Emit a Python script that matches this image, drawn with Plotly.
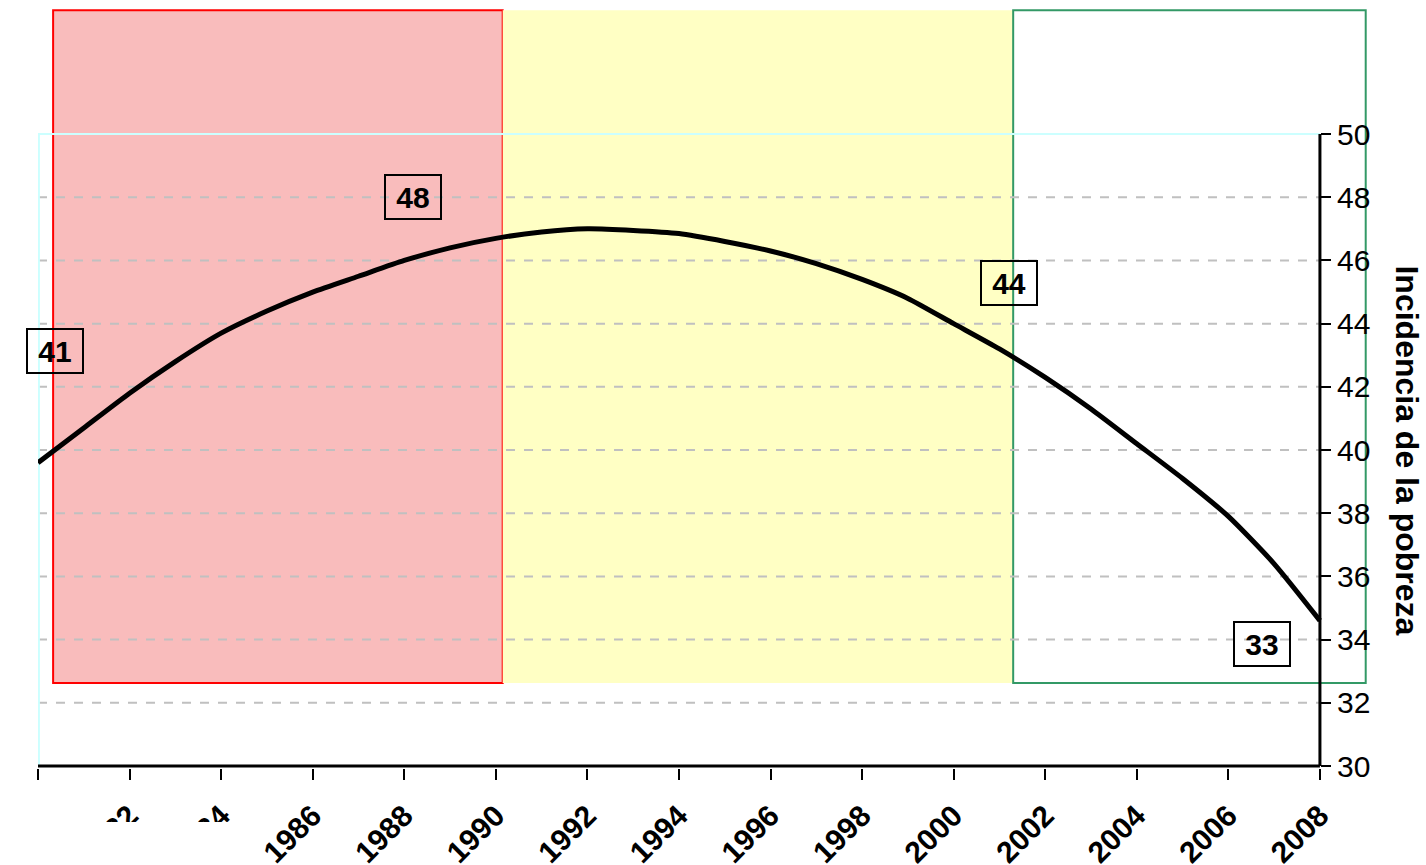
import plotly.graph_objects as go

# ---- data ----
years = list(range(1980, 2009))
incidencia = [39.6, 40.7, 41.8, 42.8, 43.7, 44.4, 45.0, 45.5, 46.0, 46.4,
              46.7, 46.9, 47.0, 46.95, 46.85, 46.6, 46.3, 45.9, 45.4, 44.8,
              44.0, 43.2, 42.3, 41.3, 40.2, 39.1, 37.9, 36.4, 34.6]

x_ticks = list(range(1980, 2009, 2))
y_ticks = list(range(30, 51, 2))

# periods (shaded bands)
period_start = [1980.33, 1990.15, 2001.3]
period_end = [1990.15, 2001.3, 2009.0]
period_bottom = 32.63
period_top = 53.92

# value labels
label_text = ["41", "48", "44", "33"]
label_x = [1980.37, 1988.19, 2001.21, 2006.73]
label_y = [43.13, 48.0, 45.28, 33.86]

Y_TITLE = "Incidencia de la pobreza"
FONT = "Liberation Sans, Arial"

fig = go.Figure()

fig.add_trace(go.Scatter(
    x=years, y=incidencia, mode="lines",
    line=dict(color="black", width=5, shape="spline", smoothing=0.6),
    showlegend=False, hoverinfo="skip",
))

shapes = []
# red period
shapes.append(dict(type="rect", xref="x", yref="y", layer="below",
                   x0=period_start[0], x1=period_end[0], y0=period_bottom, y1=period_top,
                   fillcolor="#f9bcbc", line=dict(color="#ff0000", width=2)))
# yellow period
shapes.append(dict(type="rect", xref="x", yref="y", layer="below",
                   x0=period_start[1], x1=period_end[1], y0=period_bottom, y1=period_top,
                   fillcolor="#ffffc4", line=dict(width=0)))
# green period
shapes.append(dict(type="rect", xref="x", yref="y", layer="below",
                   x0=period_start[2], x1=period_end[2], y0=period_bottom, y1=period_top,
                   fillcolor="rgba(0,0,0,0)", line=dict(color="#339966", width=2)))
# gridlines
for v in y_ticks[1:-1]:
    shapes.append(dict(type="line", xref="x", yref="y", layer="below",
                       x0=x_ticks[0], x1=x_ticks[-1], y0=v, y1=v,
                       line=dict(color="#c0c0c0", width=2, dash="dash")))
# cyan plot frame (left and top)
shapes.append(dict(type="line", xref="x", yref="y", layer="below",
                   x0=x_ticks[0], x1=x_ticks[-1], y0=y_ticks[-1], y1=y_ticks[-1],
                   line=dict(color="#ccffff", width=2)))
shapes.append(dict(type="line", xref="x", yref="y", layer="below",
                   x0=x_ticks[0] + 0.02, x1=x_ticks[0] + 0.02, y0=y_ticks[0], y1=y_ticks[-1],
                   line=dict(color="#ccffff", width=2)))
# axis lines
shapes.append(dict(type="line", xref="x", yref="y", layer="above",
                   x0=x_ticks[0], x1=x_ticks[-1], y0=y_ticks[0], y1=y_ticks[0],
                   line=dict(color="black", width=3)))
shapes.append(dict(type="line", xref="x", yref="y", layer="above",
                   x0=x_ticks[-1], x1=x_ticks[-1], y0=y_ticks[0], y1=y_ticks[-1],
                   line=dict(color="black", width=3)))
# white occluder over the first tick labels (as in the reference)
shapes.append(dict(type="rect", xref="paper", yref="paper", layer="above",
                   x0=-0.03, x1=0.156, y0=-0.0712, y1=-0.14,
                   fillcolor="white", line=dict(width=0)))

annotations = []
for t, xx, yy in zip(label_text, label_x, label_y):
    annotations.append(dict(x=xx, y=yy, xref="x", yref="y", text="<b>%s</b>" % t,
                            showarrow=False, font=dict(size=30, color="black", family=FONT),
                            bordercolor="black", borderwidth=2, borderpad=0,
                            width=54, height=42, bgcolor="rgba(0,0,0,0)"))
annotations.append(dict(x=1.029, y=40, xref="paper", yref="y", text="<b>%s</b>" % Y_TITLE,
                        showarrow=False, textangle=90, xanchor="center", yanchor="middle",
                        font=dict(size=32, color="black", family=FONT)))

fig.update_layout(
    width=1426, height=865,
    margin=dict(l=38, r=58, t=8, b=97, autoexpand=False),
    paper_bgcolor="white", plot_bgcolor="rgba(0,0,0,0)",
    font=dict(family=FONT, color="black"),
    shapes=shapes, annotations=annotations,
    xaxis=dict(range=[1980, 2009.05], tickvals=x_ticks,
               ticktext=["<b>%d</b>" % v for v in x_ticks],
               tickangle=-45, tickfont=dict(size=30), ticks="outside", ticklen=11,
               tickwidth=2, tickcolor="black", showgrid=False, zeroline=False,
               showline=False, ticklabelstandoff=6, automargin=False),
    yaxis=dict(range=[29.937, 53.99], tickvals=y_ticks, side="right", anchor="free",
               position=0.96391, ticks="outside", ticklen=10, tickwidth=2,
               tickcolor="black", tickfont=dict(size=30), showgrid=False,
               zeroline=False, showline=False, automargin=False),
    yaxis2=dict(range=[29.937, 53.99], tickvals=y_ticks, side="right", anchor="free",
                position=0.96391, overlaying="y", ticks="inside", ticklen=10, tickwidth=2,
                tickcolor="black", showticklabels=False, showgrid=False,
                zeroline=False, showline=False, automargin=False),
)

fig.write_html("out.html", config={"displayModeBar": False},
               post_script="document.body.style.margin='0px';")
